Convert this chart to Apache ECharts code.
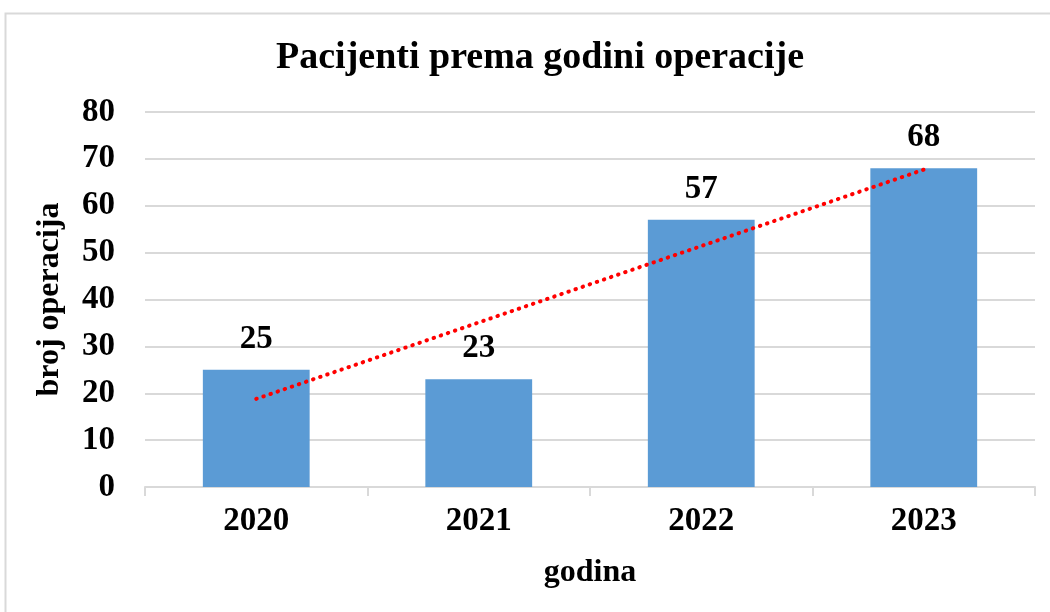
<!DOCTYPE html>
<html lang="hr">
<head>
<meta charset="UTF-8">
<title>Pacijenti prema godini operacije</title>
<style>
  html, body { margin: 0; padding: 0; background: #fff; }
  #main { width: 1050px; height: 612px; }
</style>
</head>
<body>
<div id="main"></div>
<script src="https://cdn.jsdelivr.net/npm/echarts@6/dist/echarts.min.js"></script>
<script>
// podaci
var years = ['2020', '2021', '2022', '2023'];
var operations = [25, 23, 57, 68];
// linearni trend, vrijednosti ocitane sa slike (pocetak i kraj)
var trendValues = [18.8, null, null, 67.7];
var yTicks = [0, 80, 10];

var fontFam = '"Liberation Serif", "Times New Roman", serif';

var chart = echarts.init(document.getElementById('main'));

var option = {
    animation: false,
    textStyle: { fontFamily: fontFam },
    title: {
        text: 'Pacijenti prema godini operacije',
        left: 271,
        top: 34,
        textStyle: {
            fontFamily: fontFam,
            fontWeight: 'bold',
            fontSize: 38,
            color: '#000'
        }
    },
    graphic: [{
        type: 'rect',
        shape: { x: 5.5, y: 13.5, width: 1100, height: 700 },
        style: { fill: 'none', stroke: '#d9d9d9', lineWidth: 2 },
        silent: true
    }],
    grid: { left: 145, right: 15, top: 112, bottom: 125 },
    xAxis: {
        type: 'category',
        data: years,
        name: 'godina',
        nameLocation: 'middle',
        nameGap: 70,
        nameTextStyle: { fontFamily: fontFam, fontWeight: 'bold', fontSize: 32, color: '#000' },
        axisLine: { lineStyle: { color: '#d9d9d9', width: 2 } },
        axisTick: { show: true, length: 9, lineStyle: { color: '#d9d9d9', width: 2 } },
        axisLabel: { fontFamily: fontFam, fontWeight: 'bold', fontSize: 33, color: '#000', margin: 18 }
    },
    yAxis: {
        type: 'value',
        min: yTicks[0],
        max: yTicks[1],
        interval: yTicks[2],
        name: 'broj operacija',
        nameLocation: 'middle',
        nameGap: 79,
        nameTextStyle: { fontFamily: fontFam, fontWeight: 'bold', fontSize: 32, color: '#000' },
        axisLine: { show: false },
        axisTick: { show: false },
        axisLabel: { fontFamily: fontFam, fontWeight: 'bold', fontSize: 33, color: '#000', margin: 30 },
        splitLine: { lineStyle: { color: '#d9d9d9', width: 2 } }
    },
    series: [{
        name: 'broj operacija',
        type: 'bar',
        data: operations,
        barWidth: '48%',
        itemStyle: { color: '#5b9bd5' },
        label: {
            show: true,
            position: 'top',
            distance: 14,
            fontFamily: fontFam,
            fontWeight: 'bold',
            fontSize: 33,
            color: '#000'
        }
    }, {
        name: 'trend',
        type: 'line',
        data: trendValues,
        connectNulls: true,
        symbol: 'none',
        z: 5,
        lineStyle: { color: '#ff0000', width: 4, type: [0.5, 7], cap: 'round' }
    }]
};

chart.setOption(option);
</script>
</body>
</html>
